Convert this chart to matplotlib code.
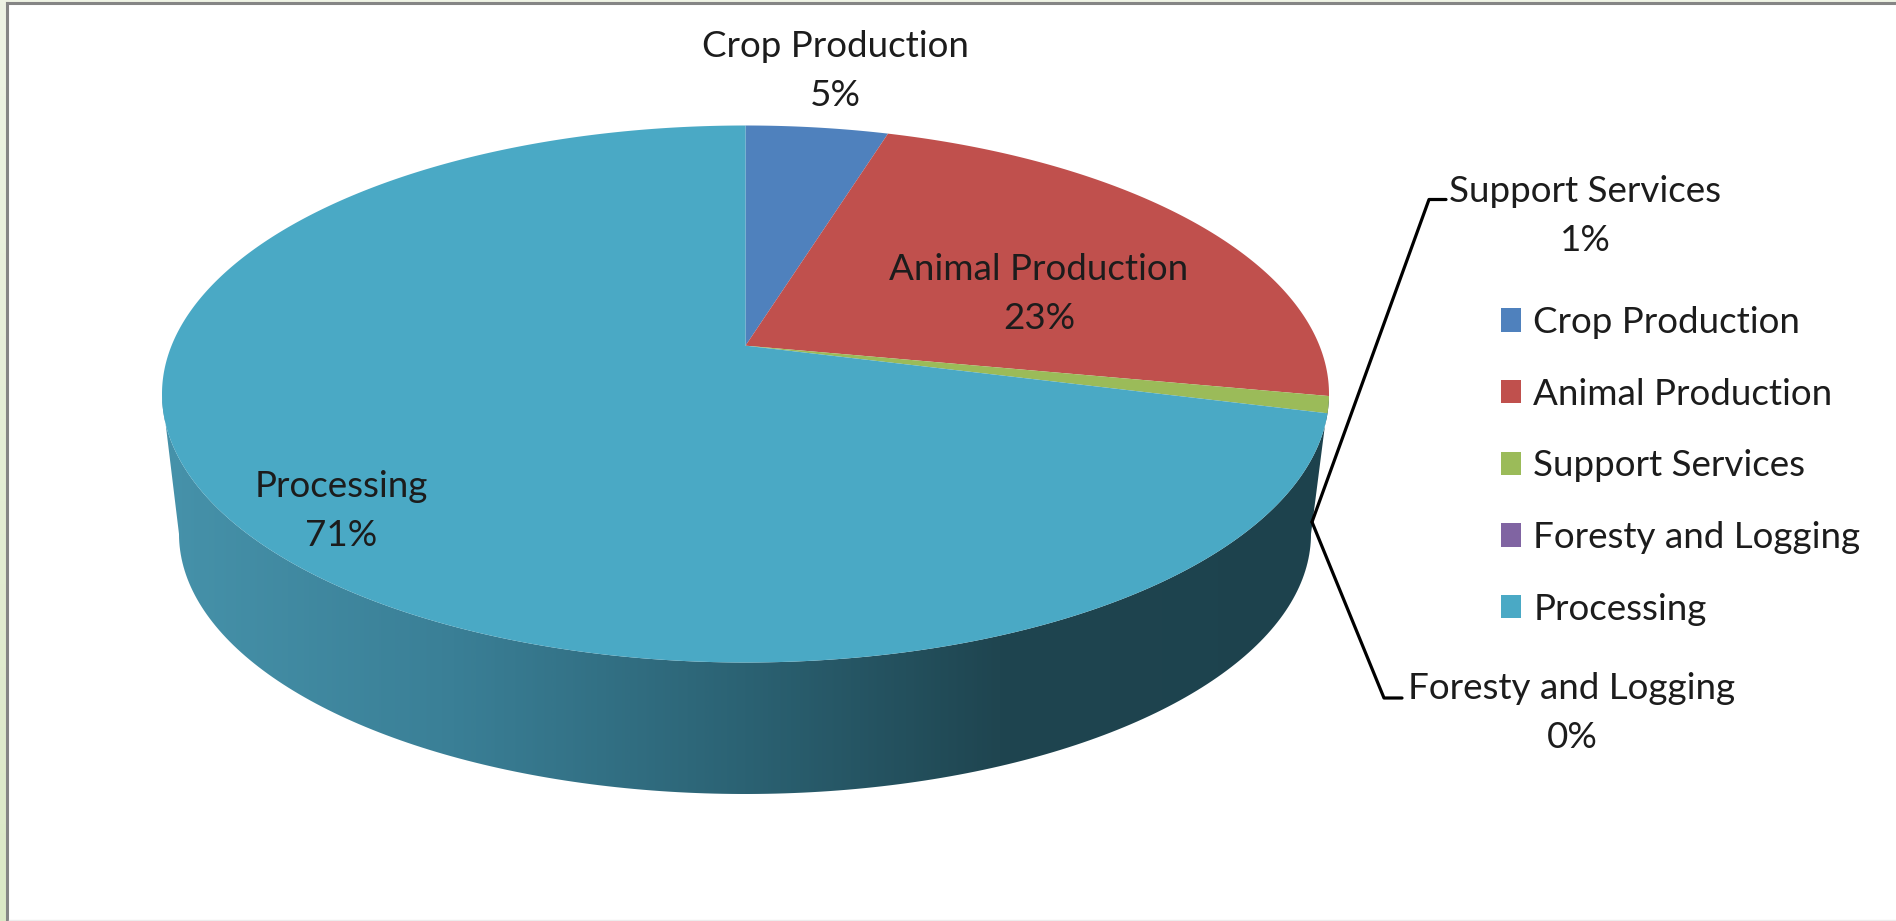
import numpy as np
import matplotlib
matplotlib.use("Agg")
import matplotlib.pyplot as plt
from matplotlib.colors import LinearSegmentedColormap
from matplotlib.patches import Patch, Polygon

plt.rcParams['font.family'] = ['Lato', 'DejaVu Sans']

#the data
categories = ["Crop Production", "Animal Production", "Support Services", "Foresty and Logging", "Processing"]
shares = [4.7, 23.3, 1, 0, 71]
colors = ["#4f81bd", "#c0504d", "#9bbb59", "#8064a2", "#4aa9c5"]

W, H = 1896, 921
FS = 26.5
TEXT = "#1c1c1c"

#top and bottom ellipse of the pie, in pixels
cx, cy, rx, ry = 745.5, 394, 583.5, 268.5
bx, by, brx, bry = 745, 534, 566, 260
#how far the pie centre is pushed up by the perspective
k = 0.18


def rim(frac):
    #point on the rim for a cumulative share, going clockwise from the top
    t = 2 * np.pi * np.asarray(frac)
    x, y = np.sin(t), np.cos(t)
    d = 1 + k * y
    return cx + rx * x * np.sqrt(1 - k**2) / d, cy - ry * (y + k) / d


fig = plt.figure(figsize=(W / 100, H / 100), dpi=100, facecolor="white")
ax = fig.add_axes([0, 0, 1, 1])
ax.axis("off")

#pale green window behind the chart, and the grey frame
green = LinearSegmentedColormap.from_list("g", ["#eef3e4", "#dbe8c6"])
ax.imshow(np.linspace(0, 1, 200).reshape(-1, 1), cmap=green, extent=[0, 6, H, 0], aspect="auto")
ax.fill_between([0, W], 0, 2, color="#eef3e4", lw=0)
ax.plot([7.5, 7.5], [H, 3.5], color="#858585", lw=2.2)
ax.plot([7.5, W], [3.5, 3.5], color="#858585", lw=2.2)
ax.plot([9, W], [920, 920], color="#ececec", lw=1)

#side of the pie with the dark gradient
a = np.linspace(0, np.pi, 200)
top_x, top_y = cx + rx * np.cos(a), cy + ry * np.sin(a)
bot_x, bot_y = bx + brx * np.cos(a[::-1]), by + bry * np.sin(a[::-1])
side = Polygon(np.r_[np.c_[top_x, top_y], np.c_[bot_x, bot_y]], closed=True, fc="none", ec="none")
ax.add_patch(side)
side_cmap = LinearSegmentedColormap.from_list(
    "side", [(0, "#4692aa"), (0.25, "#3a7f96"), (0.5, "#2b6273"), (0.72, "#1f4550"), (1, "#1d424d")])
im = ax.imshow(np.linspace(0, 1, 400).reshape(1, -1), cmap=side_cmap, aspect="auto",
               extent=[cx - rx, cx + rx, by + bry, cy])
im.set_clip_path(side)

#top of the pie
apex = (cx, cy - k * ry)
start = 0
for share, color in zip(shares, colors):
    if share > 0:
        f = np.linspace(start, start + share, 60 + int(share * 8)) / sum(shares)
        xs, ys = rim(f)
        ax.fill(np.r_[apex[0], xs], np.r_[apex[1], ys], fc=color, ec="none", zorder=3)
    start += share

#data labels
label_pos = [(835, 71), (1039, 294), (1585, 216), (1572, 713), (341, 511)]
for name, share, (lx, ly) in zip(categories, shares, label_pos):
    ax.text(lx, ly, f"{name}\n{share:.0f}%", ha="center", va="center", fontsize=FS, color=TEXT,
            linespacing=1.6, zorder=5)

#leader lines
ax.plot([1312, 1429, 1446], [522, 199.5, 199.5], color="black", lw=2.3, zorder=4, solid_capstyle="round")
ax.plot([1312, 1384, 1402], [522, 698, 698], color="black", lw=2.3, zorder=4, solid_capstyle="round")

#legend
handles = [Patch(fc=c, ec="none", label=n) for n, c in zip(categories, colors)]
ax.legend(handles=handles, loc="upper left", bbox_to_anchor=(1501 / W, 1 - 306 / H), frameon=False,
          fontsize=FS, labelcolor=TEXT, handlelength=0.55, handleheight=0.6, handletextpad=0.33,
          labelspacing=1.05, borderpad=0, borderaxespad=0)

ax.set_xlim(0, W)
ax.set_ylim(H, 0)
fig.savefig("out.png", dpi=100)
